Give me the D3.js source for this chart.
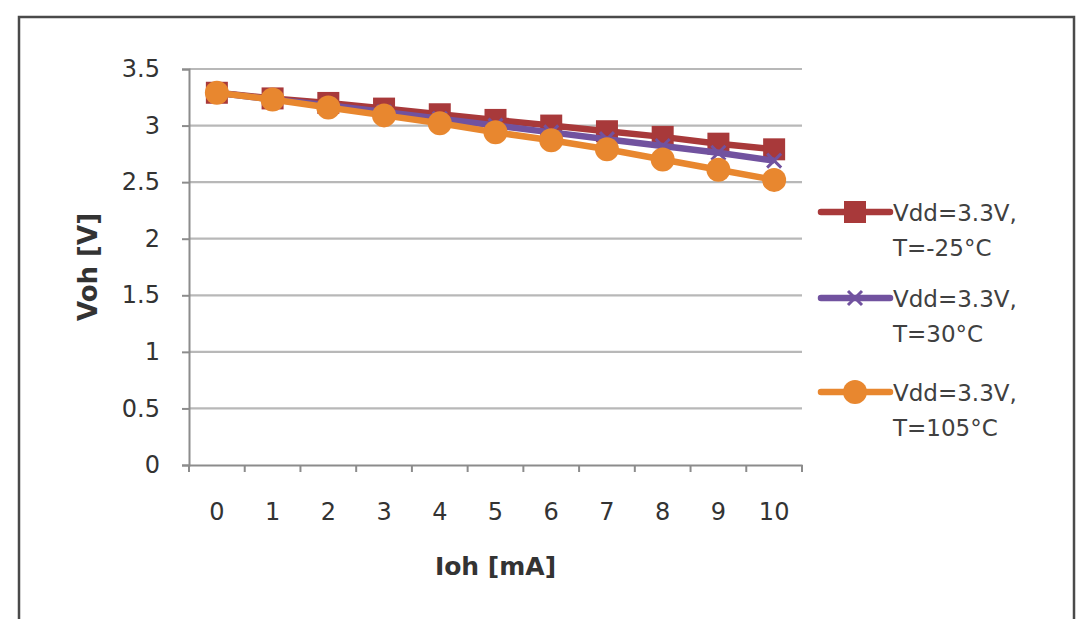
<!DOCTYPE html>
<html><head><meta charset="utf-8">
<script src="https://cdn.jsdelivr.net/npm/d3@7"></script>
<style>
html,body{margin:0;padding:0;background:#fff;}
svg{display:block;}
text{font-family:"DejaVu Sans",Verdana,sans-serif;}
</style></head><body>
<svg id="c" width="1080" height="619"></svg>
<script>
const categories = ["0","1","2","3","4","5","6","7","8","9","10"];
const yTicks = [0,0.5,1,1.5,2,2.5,3,3.5];
const yTickLabels = ["0","0.5","1","1.5","2","2.5","3","3.5"];
const seriesNames = [["Vdd=3.3V,","T=-25°C"],["Vdd=3.3V,","T=30°C"],["Vdd=3.3V,","T=105°C"]];
const valsM25 = [3.29,3.24,3.20,3.15,3.10,3.05,3.00,2.95,2.90,2.84,2.79];
const vals30  = [3.29,3.23,3.18,3.12,3.06,3.00,2.94,2.88,2.82,2.76,2.69];
const vals105 = [3.29,3.23,3.16,3.09,3.02,2.94,2.87,2.79,2.70,2.61,2.52];
const colors = ["#A8393A","#71529F","#E8872F"];
const markers = ["square","x","circle"];

const svg = d3.select("#c");
// frame
svg.append("rect").attr("x",19).attr("y",17).attr("width",1055).attr("height",610)
  .attr("fill","none").attr("stroke","#4a4a4a").attr("stroke-width",2.5);

const L=189,R=802,T=69,B=465;
const x = d3.scaleBand().domain(categories).range([L,R]);
const y = d3.scaleLinear().domain([0,3.5]).range([B,T]);

// gridlines
svg.append("g").selectAll("line").data(yTicks.slice(1)).join("line")
  .attr("x1",L).attr("x2",R).attr("y1",d=>y(d)).attr("y2",d=>y(d))
  .attr("stroke","#b8b8b8").attr("stroke-width",2.2);

// y axis
const ya = svg.append("g").attr("transform",`translate(${L},0)`)
  .call(d3.axisLeft(y).tickValues(yTicks).tickFormat((d,i)=>yTickLabels[i]).tickSize(7).tickPadding(22));
ya.select(".domain").attr("stroke","#8c8c8c").attr("stroke-width",2);
ya.selectAll(".tick line").attr("stroke","#8c8c8c").attr("stroke-width",2);
ya.selectAll("text").attr("font-size",24).attr("fill","#333").attr("font-family","DejaVu Sans");

// x axis
const xa = svg.append("g").attr("transform",`translate(0,${B})`)
  .call(d3.axisBottom(x).tickSize(0).tickPadding(38));
xa.select(".domain").attr("stroke","#8c8c8c").attr("stroke-width",2);
xa.selectAll("text").attr("font-size",24).attr("fill","#333").attr("font-family","DejaVu Sans");
// boundary ticks
const bounds = categories.map(c=>x(c)).concat([R]);
svg.append("g").selectAll("line").data(bounds).join("line")
  .attr("x1",d=>d).attr("x2",d=>d).attr("y1",B).attr("y2",B+7)
  .attr("stroke","#8c8c8c").attr("stroke-width",2);

// axis titles
svg.append("text").attr("x",(L+R)/2).attr("y",575).attr("text-anchor","middle")
  .attr("font-size",25).attr("font-weight","bold").attr("fill","#333").text("Ioh [mA]");
svg.append("text").attr("transform",`translate(97,${(T+B)/2}) rotate(-90)`).attr("text-anchor","middle")
  .attr("font-size",26).attr("font-weight","bold").attr("fill","#333").text("Voh [V]");

const series = [valsM25, vals30, vals105];
const line = d3.line().x((d,i)=>x(categories[i])+x.bandwidth()/2).y(d=>y(d));

function drawMarker(g, type, cx, cy, color){
  if(type==="square"){
    g.append("rect").attr("x",cx-11).attr("y",cy-11).attr("width",22).attr("height",22).attr("fill",color);
  } else if(type==="circle"){
    g.append("circle").attr("cx",cx).attr("cy",cy).attr("r",12).attr("fill",color);
  } else {
    g.append("path").attr("d",`M${cx-7},${cy-7}L${cx+7},${cy+7}M${cx-7},${cy+7}L${cx+7},${cy-7}`)
      .attr("stroke",color).attr("stroke-width",3).attr("fill","none");
  }
}

series.forEach((s,k)=>{
  const g = svg.append("g");
  g.append("path").datum(s).attr("d",line).attr("fill","none")
    .attr("stroke",colors[k]).attr("stroke-width",6.5).attr("stroke-linejoin","round");
  s.forEach((v,i)=>drawMarker(g, markers[k], x(categories[i])+x.bandwidth()/2, y(v), colors[k]));
});

// legend
const legY = [212,298,392];
seriesNames.forEach((nm,k)=>{
  const g = svg.append("g");
  const ly = legY[k];
  g.append("line").attr("x1",821).attr("x2",890).attr("y1",ly).attr("y2",ly)
    .attr("stroke",colors[k]).attr("stroke-width",6.5).attr("stroke-linecap","round");
  drawMarker(g, markers[k], 855, ly, colors[k]);
  g.append("text").attr("x",893).attr("y",ly+9).attr("font-size",23).attr("fill","#404040").text(nm[0]);
  g.append("text").attr("x",893).attr("y",ly+44).attr("font-size",23).attr("fill","#404040").text(nm[1]);
});
</script>
</body></html>
